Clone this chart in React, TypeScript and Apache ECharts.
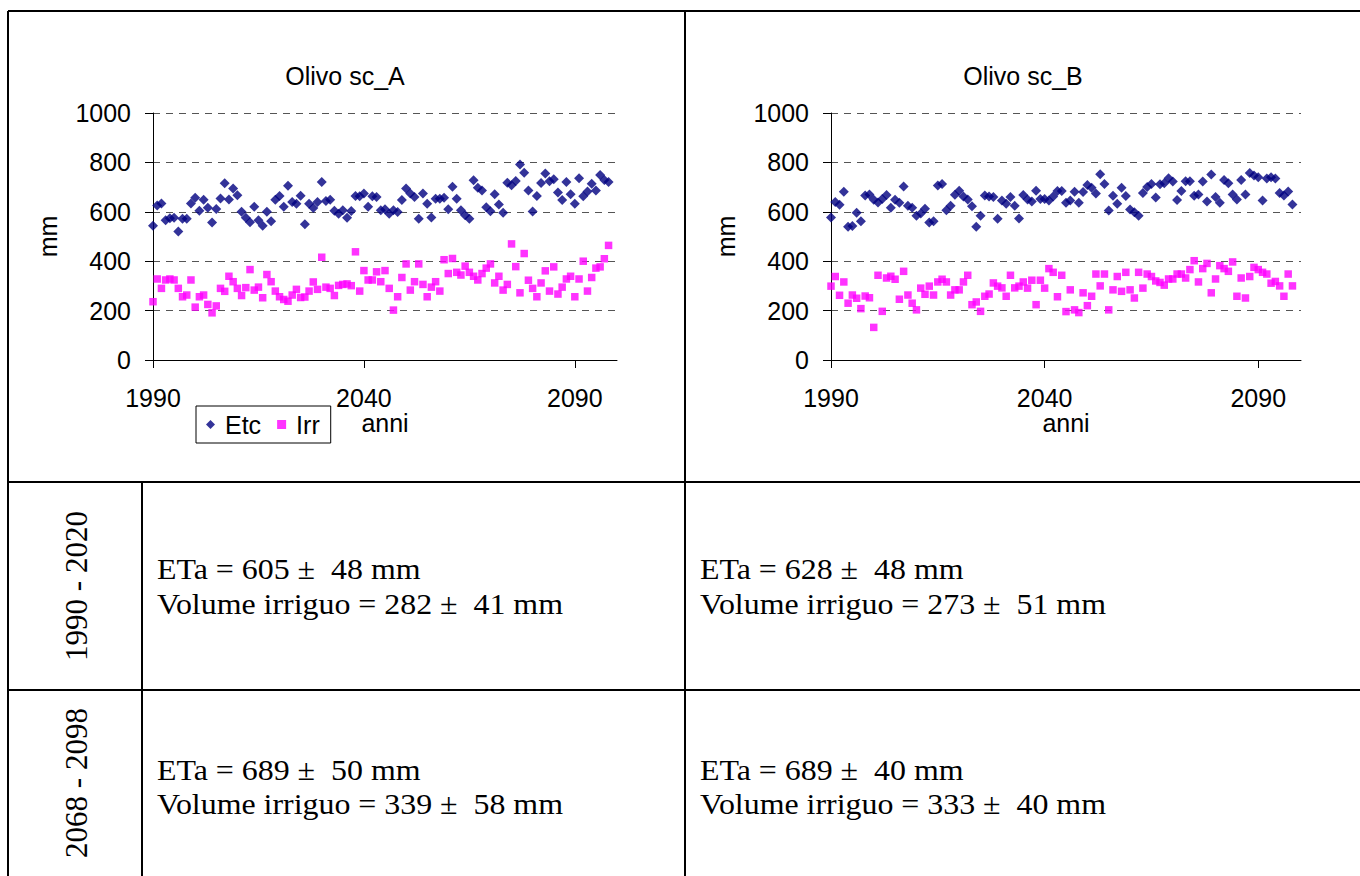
import React, { useEffect, useRef } from "react";
import * as echarts from "echarts";

// ---------- data ----------
const years = [
  1990, 1991, 1992, 1993, 1994, 1995, 1996, 1997, 1998, 1999,
  2000, 2001, 2002, 2003, 2004, 2005, 2006, 2007, 2008, 2009,
  2010, 2011, 2012, 2013, 2014, 2015, 2016, 2017, 2018, 2019,
  2020, 2021, 2022, 2023, 2024, 2025, 2026, 2027, 2028, 2029,
  2030, 2031, 2032, 2033, 2034, 2035, 2036, 2037, 2038, 2039,
  2040, 2041, 2042, 2043, 2044, 2045, 2046, 2047, 2048, 2049,
  2050, 2051, 2052, 2053, 2054, 2055, 2056, 2057, 2058, 2059,
  2060, 2061, 2062, 2063, 2064, 2065, 2066, 2067, 2068, 2069,
  2070, 2071, 2072, 2073, 2074, 2075, 2076, 2077, 2078, 2079,
  2080, 2081, 2082, 2083, 2084, 2085, 2086, 2087, 2088, 2089,
  2090, 2091, 2092, 2093, 2094, 2095, 2096, 2097, 2098,
];

const etcA = [
  544, 626, 634, 566, 574, 576, 520, 572, 572, 634,
  657, 604, 649, 616, 557, 611, 654, 716, 650, 694,
  667, 600, 576, 558, 620, 566, 544, 600, 562, 649,
  664, 620, 705, 640, 633, 665, 550, 633, 615, 640,
  721, 644, 649, 604, 592, 606, 576, 603, 664, 663,
  674, 620, 663, 660, 606, 610, 592, 606, 599, 648,
  694, 674, 660, 572, 674, 633, 577, 653, 653, 657,
  610, 701, 653, 606, 586, 572, 728, 697, 686, 618,
  602, 671, 630, 596, 718, 707, 725, 792, 758, 686,
  601, 664, 717, 755, 724, 732, 678, 648, 721, 671,
  633, 736, 663, 682, 714, 686, 749, 729, 721,
];

const irrA = [
  236, 328, 290, 324, 328, 324, 290, 256, 263, 324,
  214, 256, 263, 225, 191, 219, 290, 278, 339, 317,
  290, 261, 293, 366, 283, 295, 252, 346, 317, 279,
  256, 245, 238, 263, 286, 253, 255, 279, 316, 286,
  416, 295, 290, 261, 302, 306, 308, 301, 438, 279,
  362, 324, 324, 357, 317, 362, 290, 202, 256, 334,
  389, 283, 317, 389, 306, 256, 295, 317, 279, 406,
  350, 411, 355, 344, 380, 355, 339, 324, 350, 372,
  389, 312, 339, 283, 306, 470, 378, 272, 431, 323,
  290, 256, 312, 361, 279, 377, 267, 295, 328, 339,
  256, 328, 400, 279, 334, 372, 377, 410, 464,
];

const etcB = [
  577, 640, 629, 681, 539, 543, 596, 562, 666, 670,
  649, 638, 652, 668, 616, 649, 637, 702, 625, 616,
  584, 593, 612, 557, 562, 706, 713, 606, 624, 669,
  685, 662, 650, 622, 539, 584, 666, 662, 660, 572,
  646, 633, 660, 624, 573, 668, 650, 642, 685, 652,
  652, 646, 662, 684, 684, 637, 646, 681, 637, 680,
  709, 697, 674, 752, 713, 605, 665, 633, 697, 664,
  609, 598, 584, 676, 700, 713, 658, 712, 716, 736,
  723, 648, 684, 724, 724, 665, 670, 723, 642, 751,
  660, 637, 729, 716, 670, 650, 729, 670, 757, 747,
  740, 646, 735, 740, 735, 676, 666, 682, 630,
];

const irrB = [
  299, 338, 262, 316, 230, 263, 250, 208, 259, 252,
  132, 343, 197, 332, 339, 327, 246, 359, 263, 230,
  203, 291, 266, 299, 263, 316, 327, 316, 263, 284,
  284, 316, 343, 224, 235, 197, 258, 267, 312, 299,
  292, 258, 343, 292, 299, 316, 291, 323, 224, 323,
  291, 370, 355, 256, 343, 196, 284, 203, 192, 272,
  220, 258, 348, 300, 348, 203, 284, 338, 278, 355,
  284, 251, 355, 291, 348, 338, 320, 314, 303, 328,
  328, 348, 348, 332, 366, 402, 316, 370, 391, 272,
  328, 382, 370, 359, 397, 258, 332, 251, 338, 375,
  366, 355, 348, 311, 318, 300, 258, 348, 300,
];

const xTickValues = [1990, 2040, 2090];
const chartTitles = ["Olivo sc_A", "Olivo sc_B"];
const seriesNames = ["Etc", "Irr"];
const xAxisName = "anni";
const yAxisName = "mm";

const periods = ["1990 - 2020", "2068 - 2098"];
const statsA = [
  ["ETa = 605 ±  48 mm", "Volume irriguo = 282 ±  41 mm"],
  ["ETa = 689 ±  50 mm", "Volume irriguo = 339 ±  58 mm"],
];
const statsB = [
  ["ETa = 628 ±  48 mm", "Volume irriguo = 273 ±  51 mm"],
  ["ETa = 689 ±  40 mm", "Volume irriguo = 333 ±  40 mm"],
];

// ---------- styling ----------
const SANS = "'Liberation Sans', Arial, sans-serif";
const SERIF = "'Liberation Serif', 'Times New Roman', serif";
const NAVY = "#000080";
const MAGENTA = "#FF00FF";

const pairs = (vals: number[]) => years.map((y, i) => [y, vals[i]]);
const plain = (v: number) => String(v);

const gridLayouts = [
  { left: 153, top: 113, width: 464, height: 247 },
  { left: 831, top: 113, width: 470, height: 247 },
];
const titleCenters = [345, 1023];

function buildOption() {
  const txt = { fontSize: 25, color: "#000", fontFamily: SANS };

  const xAxes = gridLayouts.map((_, k) => ({
    type: "value",
    gridIndex: k,
    min: 1990,
    max: 2100,
    name: xAxisName,
    nameLocation: "middle",
    nameGap: 49,
    nameTextStyle: txt,
    axisLine: { show: true, onZero: false, lineStyle: { color: "#000", width: 1 } },
    axisTick: { show: true, length: 8, customValues: xTickValues, lineStyle: { color: "#000" } },
    axisLabel: { ...txt, customValues: xTickValues, margin: 25, formatter: plain },
    splitLine: { show: false },
  }));

  const yAxes = gridLayouts.map((_, k) => ({
    type: "value",
    gridIndex: k,
    min: 0,
    max: 1000,
    interval: 200,
    name: yAxisName,
    nameLocation: "middle",
    nameGap: 93,
    nameRotate: 90,
    nameTextStyle: txt,
    axisLine: { show: true, lineStyle: { color: "#000", width: 1 } },
    axisTick: { show: true, length: 8, lineStyle: { color: "#000" } },
    axisLabel: { ...txt, margin: 22, formatter: plain },
    splitLine: { show: true, lineStyle: { type: [7, 6], color: "#555", width: 1 } },
  }));

  const dataSets = [
    [etcA, irrA],
    [etcB, irrB],
  ];
  const series: any[] = [];
  dataSets.forEach(([etc, irr], k) => {
    series.push({
      type: "scatter",
      name: seriesNames[0],
      xAxisIndex: k,
      yAxisIndex: k,
      data: pairs(etc),
      symbol: "diamond",
      symbolSize: 10,
      itemStyle: { color: NAVY },
      silent: true,
    });
    series.push({
      type: "scatter",
      name: seriesNames[1],
      xAxisIndex: k,
      yAxisIndex: k,
      data: pairs(irr),
      symbol: "rect",
      symbolSize: 7.5,
      itemStyle: { color: MAGENTA },
      silent: true,
    });
  });

  const line = (x1: number, y1: number, x2: number, y2: number) => ({
    type: "line",
    silent: true,
    shape: { x1, y1, x2, y2 },
    style: { stroke: "#000", lineWidth: 2 },
  });

  const elements: any[] = [
    line(8, 11, 1360, 11),
    line(8, 11, 8, 876),
    line(685, 11, 685, 876),
    line(8, 482, 1360, 482),
    line(8, 690, 1360, 690),
    line(142, 482, 142, 876),
  ];

  const periodCenters = [586, 783];
  periods.forEach((p, r) => {
    elements.push({
      type: "text",
      silent: true,
      x: 76,
      y: periodCenters[r],
      rotation: Math.PI / 2,
      style: {
        text: p,
        fontSize: 31,
        fontFamily: SERIF,
        fill: "#000",
        align: "center",
        verticalAlign: "middle",
      },
    });
  });

  const rowLineY = [
    [569, 604],
    [770, 804],
  ];
  const colX = [157, 700];
  [statsA, statsB].forEach((stats, c) => {
    stats.forEach((lines, r) => {
      lines.forEach((t, l) => {
        elements.push({
          type: "text",
          silent: true,
          x: colX[c],
          y: rowLineY[r][l],
          scaleX: 1.1,
          style: {
            text: t,
            fontSize: 29,
            fontFamily: SERIF,
            fill: "#000",
            align: "left",
            verticalAlign: "middle",
          },
        });
      });
    });
  });

  return {
    animation: false,
    backgroundColor: "#fff",
    title: chartTitles.map((t, k) => ({
      text: t,
      left: titleCenters[k],
      top: 63,
      textAlign: "center",
      padding: 0,
      textStyle: { ...txt, fontWeight: "normal" },
    })),
    legend: {
      data: seriesNames,
      left: 196,
      top: 406,
      orient: "horizontal",
      borderColor: "#000",
      borderWidth: 1,
      padding: [6, 11, 6, 10],
      itemGap: 16,
      itemWidth: 9,
      itemHeight: 9,
      selectedMode: false,
      textStyle: { ...txt, padding: [0, 0, 0, 5] },
    },
    grid: gridLayouts.map((g) => ({ ...g, containLabel: false })),
    xAxis: xAxes,
    yAxis: yAxes,
    series,
    graphic: { elements },
  };
}

export default function App() {
  const ref = useRef<HTMLDivElement>(null);
  useEffect(() => {
    if (!ref.current) return;
    const chart = echarts.init(ref.current, null, { renderer: "svg" });
    chart.setOption(buildOption() as any);
    return () => chart.dispose();
  }, []);
  return (
    <div
      ref={ref}
      style={{
        position: "fixed",
        left: 0,
        top: 0,
        width: 1360,
        height: 876,
        background: "#fff",
      }}
    />
  );
}
